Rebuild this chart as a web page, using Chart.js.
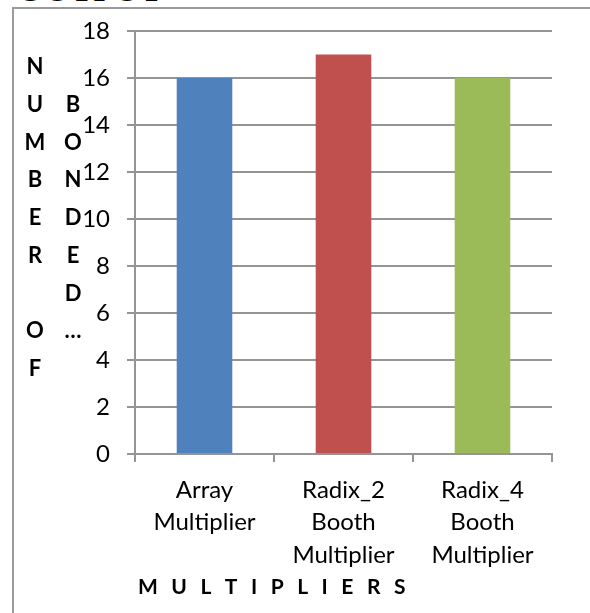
<!DOCTYPE html>
<html>
<head>
<meta charset="utf-8">
<script src="https://cdn.jsdelivr.net/npm/chart.js@4"></script>
<style>
  body { margin: 0; background: #fff; overflow: hidden; }
  .heading {
    position: absolute; left: 17px; top: -30px;
    font: 37px "Liberation Serif", serif; line-height: 1; color: #000;
  }
  .frame {
    position: absolute; left: 12px; top: 7px;
    width: 620px; height: 640px; border: 2px solid #9b9b9b;
  }
  #chart { position: absolute; left: 14px; top: 9px; }
</style>
</head>
<body>
<div class="heading">OUTPUT</div>
<div class="frame"></div>
<canvas id="chart" width="576" height="604"></canvas>
<script>
const categories = [
  ['Array', 'Multiplier'],
  ['Radix_2', 'Booth', 'Multiplier'],
  ['Radix_4', 'Booth', 'Multiplier']
];
const bonded = [16, 17, 16];
const barColors = ['#4f81bd', '#c0504d', '#9bbb59'];
const yTicks = [0, 2, 4, 6, 8, 10, 12, 14, 16, 18];
const yTitleColumns = ['NUMBER OF', 'BONDED…'];
const xTitle = 'MULTIPLIERS';

const gray = '#949494';
const tickFont = { family: 'Lato', size: 24 };
const titleFont = 'bold 22px Lato';

// axis titles: stacked letters on the left, spaced-out letters below
const axisTitles = {
  id: 'axisTitles',
  afterDraw(chart) {
    const ctx = chart.ctx;
    ctx.save();
    ctx.fillStyle = '#000';
    ctx.font = titleFont;
    ctx.textBaseline = 'middle';
    ctx.textAlign = 'center';

    const rowH = 37.75, midY = 209;
    yTitleColumns.forEach((col, c) => {
      const chars = [...col];
      const x = 21 + c * 38;
      let y = midY - (chars.length - 1) / 2 * rowH;
      chars.forEach(ch => { ctx.fillText(ch, x, y); y += rowH; });
    });

    ctx.font = 'bold 21px Lato';
    ctx.textAlign = 'left';
    let x = 124;
    for (const ch of xTitle) {
      ctx.fillText(ch, x, 578);
      x += ctx.measureText(ch).width + 13.5;
    }
    ctx.restore();
  }
};

new Chart(document.getElementById('chart'), {
  type: 'bar',
  data: {
    labels: categories,
    datasets: [{
      data: bonded,
      backgroundColor: barColors,
      categoryPercentage: 1,
      barPercentage: 0.4
    }]
  },
  options: {
    responsive: false,
    animation: false,
    devicePixelRatio: 1,
    layout: { padding: { top: 22, right: 38, left: 0, bottom: 0 } },
    plugins: {
      legend: { display: false },
      tooltip: { enabled: false }
    },
    scales: {
      x: {
        grid: { drawOnChartArea: false, tickLength: 8, color: gray, lineWidth: 2, offset: true },
        border: { color: gray, width: 2 },
        ticks: {
          color: '#000',
          font: { ...tickFont, lineHeight: 1.354 },
          padding: 12,
          maxRotation: 0,
          autoSkip: false
        },
        afterFit: s => { s.height = 159; }
      },
      y: {
        min: 0,
        max: 18,
        afterBuildTicks: s => { s.ticks = yTicks.map(v => ({ value: v })); },
        grid: { color: gray, lineWidth: 2, tickLength: 8 },
        border: { color: gray, width: 2 },
        ticks: { color: '#000', font: tickFont, padding: 17 },
        afterFit: s => { s.width = 121; s.paddingTop = 0; s.paddingBottom = 0; }
      }
    }
  },
  plugins: [axisTitles]
});
</script>
</body>
</html>
